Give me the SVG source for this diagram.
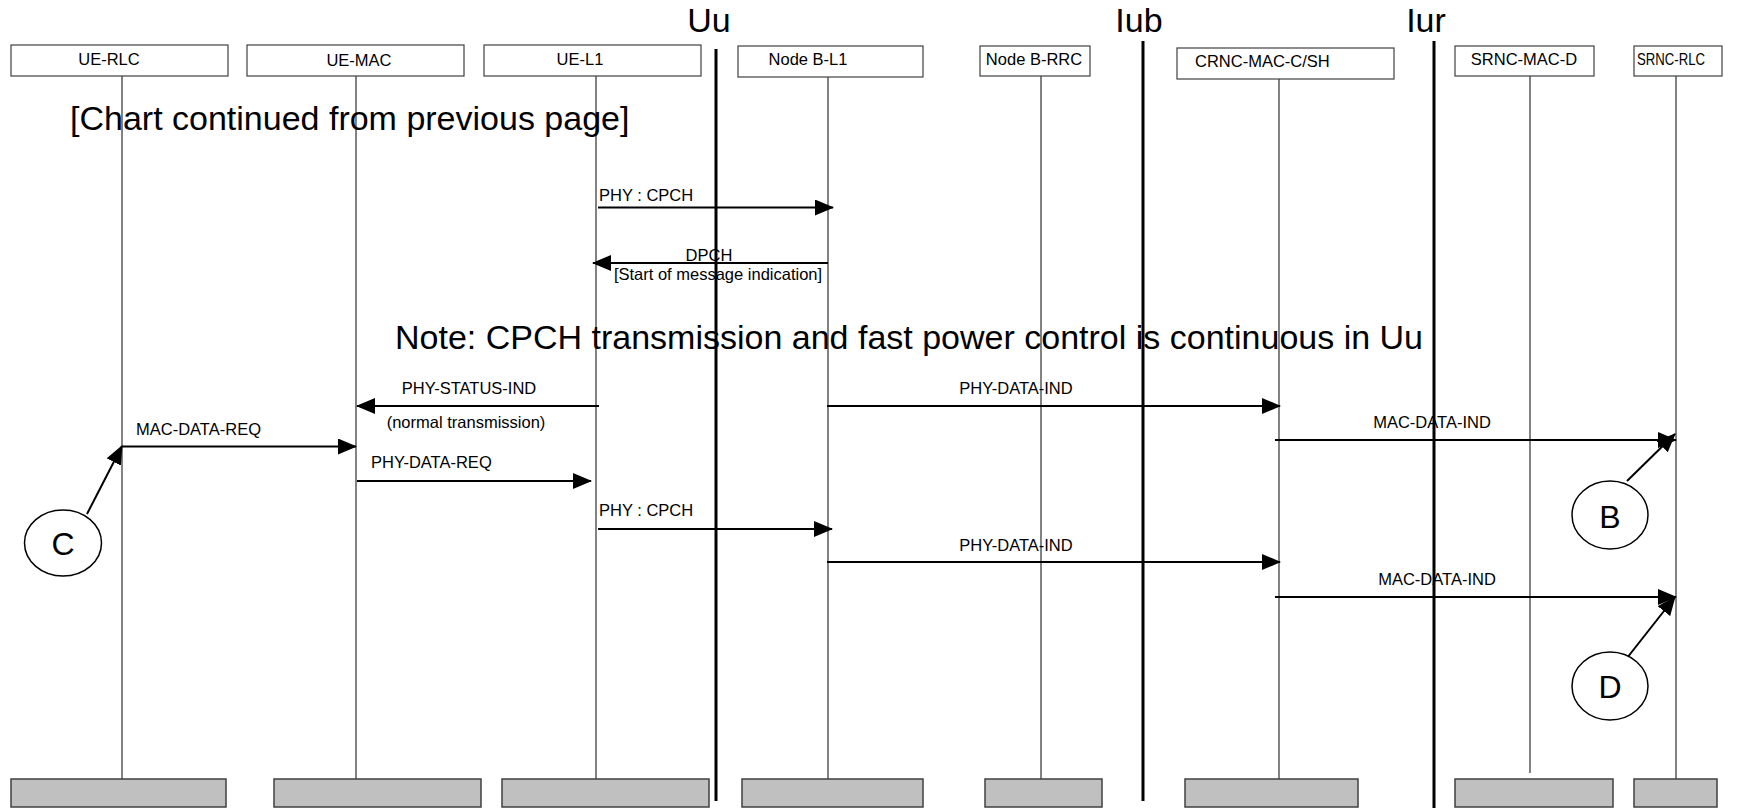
<svg xmlns="http://www.w3.org/2000/svg" width="1745" height="808" viewBox="0 0 1745 808">
<style>
text{font-family:"Liberation Sans",Arial,sans-serif;fill:#000}
.lbl{font-size:16.5px}
.big{font-size:34px}
.mid{text-anchor:middle}
.box{fill:#fff;stroke:#404040;stroke-width:1.2}
.foot{fill:#c0c0c0;stroke:#404040;stroke-width:1.5}
.life{stroke:#303030;stroke-width:1.2;fill:none}
.iface{stroke:#000;stroke-width:3;fill:none}
.msg{stroke:#000;stroke-width:2;fill:none}
.circ{fill:#fff;stroke:#000;stroke-width:1.5}
.cl{font-size:32px;text-anchor:middle}
</style>
<defs>
<marker id="ah" markerWidth="19" markerHeight="16" refX="18" refY="8" orient="auto" markerUnits="userSpaceOnUse">
<path d="M0,0 L19,8 L0,16 z" fill="#000"/>
</marker>
</defs>
<rect width="1745" height="808" fill="#fff"/>

<g id="interfaces">
<line class="iface" x1="716" y1="49" x2="716" y2="801"/>
<line class="iface" x1="1143" y1="41" x2="1143" y2="801"/>
<line class="iface" x1="1434" y1="41" x2="1434" y2="808"/>
<text class="big mid" x="709" y="32">Uu</text>
<text class="big mid" x="1139" y="32">Iub</text>
<text class="big mid" x="1426" y="32">Iur</text>
</g>

<g id="ue-rlc">
<line class="life" x1="122" y1="76" x2="122" y2="779"/>
<rect class="box" x="11" y="45" width="217" height="31"/>
<text class="lbl mid" x="109" y="65">UE-RLC</text>
<rect class="foot" x="11" y="779" width="215" height="28"/>
</g>
<g id="ue-mac">
<line class="life" x1="356" y1="76" x2="356" y2="779"/>
<rect class="box" x="247" y="45" width="217" height="31"/>
<text class="lbl mid" x="359" y="66">UE-MAC</text>
<rect class="foot" x="274" y="779" width="207" height="28"/>
</g>
<g id="ue-l1">
<line class="life" x1="596" y1="76" x2="596" y2="779"/>
<rect class="box" x="484" y="45" width="217" height="31"/>
<text class="lbl mid" x="580" y="65">UE-L1</text>
<rect class="foot" x="502" y="779" width="207" height="28"/>
</g>
<g id="nodeb-l1">
<line class="life" x1="828" y1="76" x2="828" y2="779"/>
<rect class="box" x="738" y="46" width="185" height="31"/>
<text class="lbl mid" x="808" y="65">Node B-L1</text>
<rect class="foot" x="742" y="779" width="181" height="28"/>
</g>
<g id="nodeb-rrc">
<line class="life" x1="1041" y1="76" x2="1041" y2="779" stroke="#707070"/>
<rect class="box" x="980" y="46" width="110" height="30"/>
<text class="lbl mid" x="1034" y="65" font-size="17.5">Node B-RRC</text>
<rect class="foot" x="985" y="779" width="117" height="28"/>
</g>
<g id="crnc-mac">
<line class="life" x1="1279" y1="79" x2="1279" y2="779"/>
<rect class="box" x="1177" y="48" width="217" height="31"/>
<text class="lbl" x="1195" y="67">CRNC-MAC-C/SH</text>
<rect class="foot" x="1185" y="779" width="173" height="28"/>
</g>
<g id="srnc-mac-d">
<line class="life" x1="1530" y1="76" x2="1530" y2="773"/>
<rect class="box" x="1455" y="46" width="139" height="30"/>
<text class="lbl mid" x="1524" y="65">SRNC-MAC-D</text>
<rect class="foot" x="1455" y="779" width="158" height="28"/>
</g>
<g id="srnc-rlc">
<line class="life" x1="1676" y1="76" x2="1676" y2="779"/>
<rect class="box" x="1634" y="46" width="88" height="30"/>
<text class="lbl" x="1637" y="65" textLength="68" lengthAdjust="spacingAndGlyphs">SRNC-RLC</text>
<rect class="foot" x="1634" y="779" width="83" height="28"/>
</g>

<g id="notes">
<text class="big" x="70" y="130">[Chart continued from previous page]</text>
<text class="big" x="395" y="349">Note: CPCH transmission and fast power control is continuous in Uu</text>
</g>

<g id="connectors">
<line class="msg" x1="598" y1="207.5" x2="833" y2="207.5" marker-end="url(#ah)"/>
<text class="lbl" x="599" y="201">PHY : CPCH</text>
<line class="msg" x1="828" y1="263" x2="593" y2="263" marker-end="url(#ah)"/>
<text class="lbl mid" x="709" y="261">DPCH</text>
<text class="lbl mid" x="718" y="280">[Start of message indication]</text>
<line class="msg" x1="599" y1="406" x2="357" y2="406" marker-end="url(#ah)"/>
<text class="lbl mid" x="469" y="394">PHY-STATUS-IND</text>
<text class="lbl mid" x="466" y="428">(normal transmission)</text>
<line class="msg" x1="827" y1="406" x2="1280" y2="406" marker-end="url(#ah)"/>
<text class="lbl mid" x="1016" y="394">PHY-DATA-IND</text>
<line class="msg" x1="1275" y1="440" x2="1676" y2="440" marker-end="url(#ah)"/>
<text class="lbl mid" x="1432" y="428">MAC-DATA-IND</text>
<line class="msg" x1="122" y1="446.5" x2="356" y2="446.5" marker-end="url(#ah)"/>
<text class="lbl" x="136" y="435">MAC-DATA-REQ</text>
<line class="msg" x1="357" y1="481" x2="591" y2="481" marker-end="url(#ah)"/>
<text class="lbl" x="371" y="468">PHY-DATA-REQ</text>
<line class="msg" x1="598" y1="529" x2="832" y2="529" marker-end="url(#ah)"/>
<text class="lbl" x="599" y="516">PHY : CPCH</text>
<line class="msg" x1="827" y1="562" x2="1280" y2="562" marker-end="url(#ah)"/>
<text class="lbl mid" x="1016" y="551">PHY-DATA-IND</text>
<line class="msg" x1="1275" y1="597" x2="1676" y2="597" marker-end="url(#ah)"/>
<text class="lbl mid" x="1437" y="585">MAC-DATA-IND</text>
<line class="msg" x1="87" y1="514" x2="122" y2="446" marker-end="url(#ah)"/>
<line class="msg" x1="1627" y1="481" x2="1675" y2="434" marker-end="url(#ah)"/>
<line class="msg" x1="1627" y1="658" x2="1675" y2="597" marker-end="url(#ah)"/>
</g>

<g id="marker-c">
<ellipse class="circ" cx="63" cy="543" rx="38.5" ry="33"/>
<text class="cl" x="63" y="555">C</text>
</g>
<g id="marker-b">
<ellipse class="circ" cx="1610" cy="515" rx="38" ry="34"/>
<text class="cl" x="1610" y="528">B</text>
</g>
<g id="marker-d">
<ellipse class="circ" cx="1610" cy="686" rx="38" ry="34"/>
<text class="cl" x="1610" y="698">D</text>
</g>
</svg>
